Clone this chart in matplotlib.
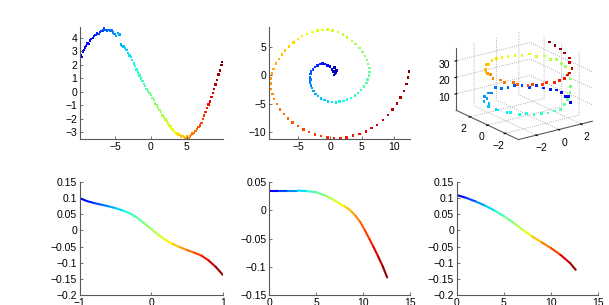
import numpy as np
import matplotlib
matplotlib.use("Agg")
import matplotlib.pyplot as plt
from matplotlib.collections import LineCollection

# ==============================
# DATA
# ==============================
# top left: noisy S-curve
s_x = [-9.9, -9.85, -9.7, -9.6, -9.45, -9.3, -9.2, -9.0, -8.85, -8.7, -8.5, -8.3, -8.1, -7.9,
       -7.7, -7.5, -7.3, -7.1, -6.9, -6.7, -6.5, -6.3, -6.1, -5.9, -5.7, -5.5, -5.3, -5.1,
       -4.9, -4.6, -4.4, -4.2, -4.0, -3.8, -3.6, -3.4, -3.2, -3.0, -2.8, -2.6, -2.4, -2.2,
       -2.0, -1.8, -1.6, -1.4, -1.2, -1.0, -0.8, -0.6, -0.4, -0.2, 0.0, 0.2, 0.4, 0.6, 0.8,
       1.0, 1.2, 1.4, 1.6, 1.8, 2.0, 2.2, 2.4, 2.6, 2.8, 3.0, 3.2, 3.4, 3.6, 3.8, 4.0, 4.2,
       4.4, 4.6, 4.8, 5.0, 5.2, 5.4, 5.6, 5.8, 6.0, 6.2, 6.4, 6.6, 6.8, 7.0, 7.2, 7.4, 7.6,
       7.8, 8.0, 8.2, 8.4, 8.6, 8.8, 9.0, 9.2, 9.4, 9.6, 9.8, 9.85]
s_y = [2.1, 2.4, 2.7, 2.6, 3.0, 3.1, 3.3, 3.4, 3.6, 3.55, 3.8, 3.9, 4.0, 4.15,
       4.2, 4.35, 4.3, 4.45, 4.5, 4.55, 4.7, 4.6, 4.5, 4.6, 4.5, 4.55, 4.4, 4.3,
       4.15, 4.35, 4.25, 3.5, 3.4, 3.35, 3.25, 3.1, 2.9, 2.7, 2.6, 2.35, 2.1, 1.9,
       1.65, 1.45, 1.2, 1.0, 0.8, 0.6, 0.45, 0.2, 0.05, -0.1, -0.25, -0.45, -0.6, -0.85, -1.0,
       -1.2, -1.35, -1.5, -1.75, -1.9, -2.05, -2.2, -2.35, -2.5, -2.65, -2.8, -2.9, -3.05, -3.1, -3.15, -3.2, -3.3,
       -3.25, -3.35, -3.4, -3.3, -3.45, -3.3, -3.2, -3.1, -3.05, -2.9, -2.75, -2.6, -2.5, -2.3, -2.0, -1.75, -1.5,
       -1.2, -0.95, -0.7, -0.4, -0.1, 0.2, 0.55, 0.9, 1.3, 1.6, 2.0, 2.2]

# top middle: noisy spiral
sp_x = [0.6, 0.9, 0.8, 0.5, 1.0, 0.3, 0.7, 0.0, -0.4, -0.8, -1.2, -1.6, -2.0, -2.4, -2.7,
        -3.0, -3.1, -3.2, -3.1, -3.2, -3.0, -2.9, -2.6, -2.3, -1.9, -1.4, -0.9, -0.3, 0.3,
        0.9, 1.5, 2.1, 2.7, 3.3, 3.9, 4.4, 4.9, 5.3, 5.7, 5.9, 6.1, 6.2, 6.2, 6.0, 5.8, 5.5,
        5.1, 4.6, 4.0, 3.4, 2.7, 2.0, 1.2, 0.4, -0.4, -1.2, -2.0, -2.8, -3.6, -4.4, -5.1,
        -5.8, -6.5, -7.1, -7.6, -8.1, -8.5, -8.9, -9.2, -9.4, -9.4, -9.3, -9.1, -8.8, -8.4,
        -7.9, -7.3, -6.6, -5.9, -5.1, -4.2, -3.3, -2.4, -1.4, -0.4, 0.6, 1.6, 2.6, 3.6, 4.6,
        5.6, 6.5, 7.4, 8.3, 9.1, 9.8, 10.5, 11.1, 11.6, 12.0, 12.3, 12.4]
sp_y = [0.0, 0.4, 0.3, 0.6, 0.8, 1.0, 1.3, 1.5, 1.7, 1.9, 2.0, 1.9, 1.7, 1.4, 1.0,
        0.6, 0.2, -0.3, -0.8, -1.3, -1.8, -2.3, -2.8, -3.3, -3.7, -4.1, -4.4, -4.6, -4.7,
        -4.8, -4.6, -4.5, -4.3, -4.0, -3.6, -3.1, -2.6, -2.0, -1.4, -0.8, -0.1, 0.5, 1.2, 1.9, 2.6, 3.3,
        4.0, 4.7, 5.4, 6.0, 6.6, 7.1, 7.5, 7.8, 8.0, 7.9, 7.8, 7.5, 7.2, 6.8, 6.3,
        5.7, 5.0, 4.3, 3.6, 2.8, 2.0, 1.1, 0.3, -0.6, -1.5, -2.4, -3.3, -4.2, -5.1,
        -6.0, -6.8, -7.6, -8.3, -8.9, -9.5, -10.0, -10.4, -10.7, -10.9, -11.0, -11.0, -10.9, -10.6, -10.3,
        -9.9, -9.3, -8.7, -7.9, -7.0, -6.0, -5.0, -3.9, -2.8, -1.6, -0.4, 0.6]

# top right: 3-d helix (lower loop, climb, upper loop, tail)
h_x = [2.38, 2.55, 2.90, 2.88, 3.05, 2.90, 2.88, 2.52, 2.36, 1.85, 1.58, 0.95, 0.60, -0.08,
       -0.45, -1.10, -1.42, -2.01, -2.22, -2.70, -2.75, -3.05, -2.92, -3.10, -2.74, -2.68,
       -2.36, -1.85, -1.58, -0.95, -0.60, 0.08, 0.45,
       1.10, 1.45, 2.00, 2.25, 2.68, 2.76, 3.02,
       2.93, 3.02, 2.75, 2.68, 2.22, 2.00, 1.44, 1.09, 0.46, 0.07, -0.58, -0.97, -1.56, -1.86,
       -2.37, -2.53, -2.89, -2.88, -3.07, -2.89, -2.88, -2.53, -2.37, -1.86, -1.56, -0.97,
       -0.58, -0.07, 0.58, 0.97, 1.56, 1.86,
       2.36, 2.55, 2.88, 2.90, 2.95, 2.88, 2.75]
h_y = [-1.85, -1.58, -0.95, -0.60, 0.08, 0.45, 1.10, 1.42, 2.01, 2.22, 2.70, 2.75, 3.05, 2.92,
       3.10, 2.74, 2.68, 2.36, 1.85, 1.58, 0.95, 0.60, -0.08, -0.45, -1.10, -1.42,
       -2.01, -2.22, -2.70, -2.75, -3.05, -2.92, -3.10,
       -2.75, -2.66, -2.24, -1.99, -1.44, -1.09, -0.46,
       -0.07, 0.58, 0.97, 1.56, 1.86, 2.37, 2.53, 2.89, 2.88, 3.07, 2.89, 2.88, 2.53, 2.37,
       1.86, 1.56, 0.97, 0.58, 0.07, -0.58, -0.97, -1.56, -1.86, -2.37, -2.53, -2.89,
       -2.88, -3.07, -2.89, -2.88, -2.53, -2.37,
       -1.99, -1.44, -1.09, -0.46, 0.06, 0.60, 1.10]
h_z = [8.2, 7.5, 8.8, 7.9, 8.5, 9.2, 7.8, 8.6, 9.0, 8.1, 8.7, 9.4, 8.3, 8.9,
       9.6, 8.4, 9.1, 8.6, 9.3, 8.8, 9.5, 9.0, 8.7, 9.4, 9.1, 9.8,
       9.2, 9.6, 9.9, 9.4, 10.0, 9.7, 10.3,
       11.5, 13.5, 16.0, 18.5, 21.0, 23.5, 25.5,
       26.5, 27.2, 26.8, 27.5, 27.0, 27.8, 27.3, 26.9, 27.6, 27.1, 27.9, 27.4, 27.0, 27.7,
       27.2, 26.8, 27.5, 27.9, 27.3, 27.6, 27.0, 27.8, 27.4, 27.1, 27.7, 27.3,
       27.9, 27.5, 27.2, 27.8, 28.0, 28.3,
       29.5, 31.0, 32.5, 34.0, 35.0, 36.0, 37.0]

# bottom row: embeddings
e1_x = [-1.0, -0.9, -0.8, -0.7, -0.6, -0.5, -0.4, -0.3, -0.2, -0.1, 0.0, 0.1, 0.2, 0.3,
        0.4, 0.5, 0.6, 0.7, 0.8, 0.9, 1.0]
e1_y = [0.100, 0.091, 0.085, 0.080, 0.075, 0.069, 0.062, 0.053, 0.040, 0.022, 0.004,
        -0.014, -0.030, -0.042, -0.052, -0.061, -0.069, -0.078, -0.093, -0.113, -0.138]

e2_x = [0.0, 1.0, 2.0, 3.0, 4.0, 5.0, 6.0, 6.8, 7.5, 8.0, 8.4, 8.8, 9.2, 9.7, 10.2,
        10.7, 11.1, 11.6, 12.1, 12.55]
e2_y = [0.035, 0.035, 0.035, 0.035, 0.034, 0.032, 0.026, 0.019, 0.012, 0.007, 0.003,
        -0.003, -0.010, -0.021, -0.036, -0.052, -0.065, -0.082, -0.100, -0.119]

e3_x = [0.0, 1.0, 2.0, 3.0, 4.0, 5.0, 6.0, 7.0, 8.0, 9.0, 10.0, 11.0, 12.0, 12.6]
e3_y = [0.110, 0.101, 0.090, 0.077, 0.062, 0.044, 0.024, 0.002, -0.019, -0.037, -0.055,
        -0.076, -0.101, -0.122]

# ==============================
# STYLE
# ==============================
plt.rcParams['font.family'] = ['Liberation Sans', 'DejaVu Sans']
plt.rcParams['font.size'] = 7.5
plt.rcParams['grid.linestyle'] = ':'
plt.rcParams['grid.color'] = '0.6'
plt.rcParams['grid.linewidth'] = 0.6
axis_col = '0.35'
cmap = plt.get_cmap('jet')

fig = plt.figure(figsize=(6.09, 3.05), dpi=100)


def style2d(ax):
    for side in ['top', 'right']:
        ax.spines[side].set_visible(False)
    for side in ['left', 'bottom']:
        ax.spines[side].set_color(axis_col)
        ax.spines[side].set_linewidth(0.8)
    ax.tick_params(direction='in', length=2.5, width=0.6, color=axis_col, pad=2)


def color_line(ax, x, y):
    x = np.asarray(x)
    y = np.asarray(y)
    pts = np.column_stack([x, y]).reshape(-1, 1, 2)
    segs = np.concatenate([pts[:-1], pts[1:]], axis=1)
    c = (x - x.min()) / (x.max() - x.min())
    mid = (c[:-1] + c[1:]) / 2
    lc = LineCollection(segs, colors=cmap(0.08 + 0.92 * mid), linewidth=1.5, capstyle='round')
    ax.add_collection(lc)


# --------------------------
# top left
# --------------------------
ax1 = fig.add_axes([0.131, 0.544, 0.235, 0.367])
c1 = np.linspace(0, 1, len(s_x)) ** 1.2
ax1.scatter(s_x, s_y, c=c1, cmap='jet', vmin=-0.08, vmax=1, s=3, marker='s', linewidths=0)
ax1.set_xlim(-9.9, 10)
ax1.set_ylim(-3.5, 4.8)
ax1.set_xticks([-5, 0, 5])
ax1.set_yticks([-3, -2, -1, 0, 1, 2, 3, 4])
style2d(ax1)

# --------------------------
# top middle (colour follows the winding angle)
# --------------------------
ax2 = fig.add_axes([0.442, 0.544, 0.2315, 0.367])
sx = np.asarray(sp_x)
sy = np.asarray(sp_y)
ang = np.degrees(np.unwrap(np.arctan2(sy - 0.3, sx - 0.2)))
ang = ang - ang[0] - 100
ang = np.clip(ang / ang.max(), 0, 1)
ax2.scatter(sx, sy, c=ang, cmap='jet', vmin=-0.05, vmax=1, s=3, marker='s', linewidths=0)
ax2.set_xlim(-9.6, 12.6)
ax2.set_ylim(-11.2, 8.4)
ax2.set_xticks([-5, 0, 5, 10])
ax2.set_yticks([-10, -5, 0, 5])
style2d(ax2)

# --------------------------
# top right (3d)
# --------------------------
ax3 = fig.add_axes([0.730, 0.47, 0.255, 0.493], projection='3d')
ax3.set_proj_type('ortho')
ax3.scatter(h_x, h_y, h_z, c=np.linspace(0, 1, len(h_x)), cmap='jet', vmin=-0.08, vmax=1,
            s=4, marker='s', linewidths=0, depthshade=False)
ax3.view_init(elev=20, azim=-126)
ax3.set_xlim(-3.6, 3.0)
ax3.set_ylim(-3.5, 3.6)
ax3.set_zlim(0, 38)
ax3.set_xticks([-2, 0, 2])
ax3.set_yticks([-2, 0, 2])
ax3.set_zticks([10, 20, 30])
for a in [ax3.xaxis, ax3.yaxis, ax3.zaxis]:
    a.set_pane_color((1, 1, 1, 0))
    a.line.set_color(axis_col)
    a.line.set_linewidth(0.8)
ax3.tick_params(labelsize=7.5, pad=-3)
ax3.set_box_aspect((1, 1.16, 0.73))

# --------------------------
# bottom row
# --------------------------
ax4 = fig.add_axes([0.131, 0.033, 0.235, 0.37])
color_line(ax4, e1_x, e1_y)
ax4.set_xlim(-1, 1)
ax4.set_ylim(-0.2, 0.15)
ax4.set_xticks([-1, 0, 1])
ax4.set_yticks([-0.2, -0.15, -0.1, -0.05, 0, 0.05, 0.1, 0.15])
ax4.set_yticklabels(['\u22120.2', '\u22120.15', '\u22120.1', '\u22120.05', '0', '0.05', '0.1', '0.15'])
style2d(ax4)

ax5 = fig.add_axes([0.442, 0.033, 0.2315, 0.37])
color_line(ax5, e2_x, e2_y)
ax5.set_xlim(0, 15)
ax5.set_ylim(-0.15, 0.05)
ax5.set_xticks([0, 5, 10, 15])
ax5.set_yticks([-0.15, -0.1, -0.05, 0, 0.05])
ax5.set_yticklabels(['\u22120.15', '\u22120.1', '\u22120.05', '0', '0.05'])
style2d(ax5)

ax6 = fig.add_axes([0.75, 0.033, 0.2325, 0.37])
color_line(ax6, e3_x, e3_y)
ax6.set_xlim(0, 15)
ax6.set_ylim(-0.2, 0.15)
ax6.set_xticks([0, 5, 10, 15])
ax6.set_yticks([-0.2, -0.15, -0.1, -0.05, 0, 0.05, 0.1, 0.15])
ax6.set_yticklabels(['\u22120.2', '\u22120.15', '\u22120.1', '\u22120.05', '0', '0.05', '0.1', '0.15'])
style2d(ax6)

fig.savefig("out.png", dpi=100)
